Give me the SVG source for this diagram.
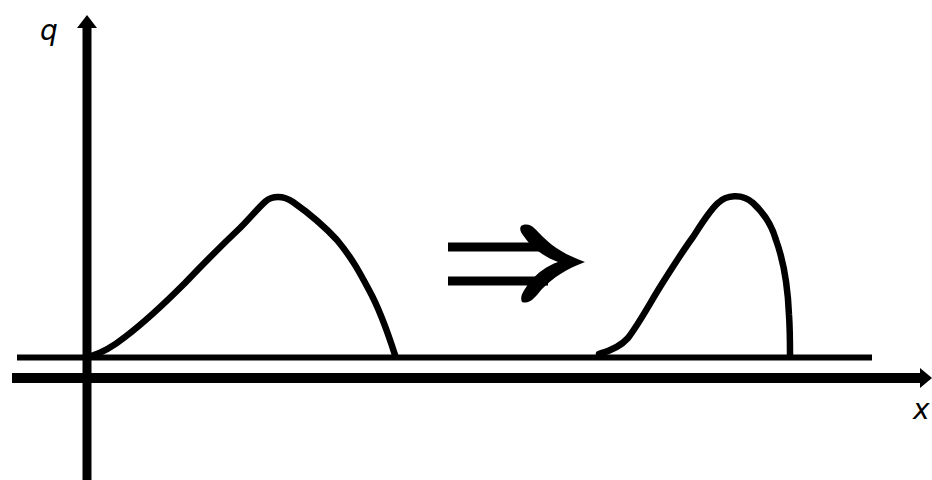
<svg xmlns="http://www.w3.org/2000/svg" width="932" height="480" viewBox="0 0 932 480">
<style>
.ax{stroke:#000;fill:none;stroke-linecap:butt}
.curve{stroke:#000;fill:none;stroke-width:6.5;stroke-linecap:round;stroke-linejoin:round}
.lbl{font-family:"DejaVu Sans",sans-serif;font-style:italic;font-size:28px;fill:#000}
</style>
<rect width="932" height="480" fill="#fff"/>
<g id="axes">
<line class="ax" x1="87" y1="26" x2="87" y2="480" stroke-width="9"/>
<polygon points="87,15 97,28 77,28" fill="#000"/>
<line class="ax" x1="12" y1="378" x2="922" y2="378" stroke-width="10" stroke-linecap="round"/>
<polygon points="932,378 920,368 920,388" fill="#000"/>
<line class="ax" x1="17" y1="357.5" x2="872" y2="357.5" stroke-width="6"/>
</g>
<g id="labels">
<text class="lbl" x="40" y="40">q</text>
<text class="lbl" x="913" y="419">x</text>
</g>
<g id="curve1">
<path class="curve" d="M91,356 C105,352 115,345 125,337 C150,318 168,300 185,283 C205,262 222,245 240,228 C250,218 258,208 266,201 C272,196 283,195 293,202 C310,214 325,227 337,240 C352,258 360,273 369,290 C380,310 387,330 395,355"/>
</g>
<g id="curve2">
<path class="curve" d="M599,354 C610,351 620,347 628,338 C640,322 650,303 660,287 C672,268 682,252 693,237 C702,223 710,210 718,203 C726,195 742,193 753,203 C765,214 772,226 776,240 C784,262 788,290 789,315 C790,330 790,345 790,355"/>
</g>
<g id="implies">
<line class="ax" x1="448" y1="247" x2="548" y2="247" stroke-width="9"/>
<line class="ax" x1="448" y1="281" x2="548" y2="281" stroke-width="9"/>
<path d="M521,226 C530,221 536,230 542,236 C554,248 566,255 585,262 C566,269 554,277 542,289 C536,296 530,305 522,302 C519,296 525,289 529,283 C538,272 547,266 558,262 C547,258 538,252 529,243 C524,236 518,231 521,226 Z" fill="#000"/>
</g>
</svg>
